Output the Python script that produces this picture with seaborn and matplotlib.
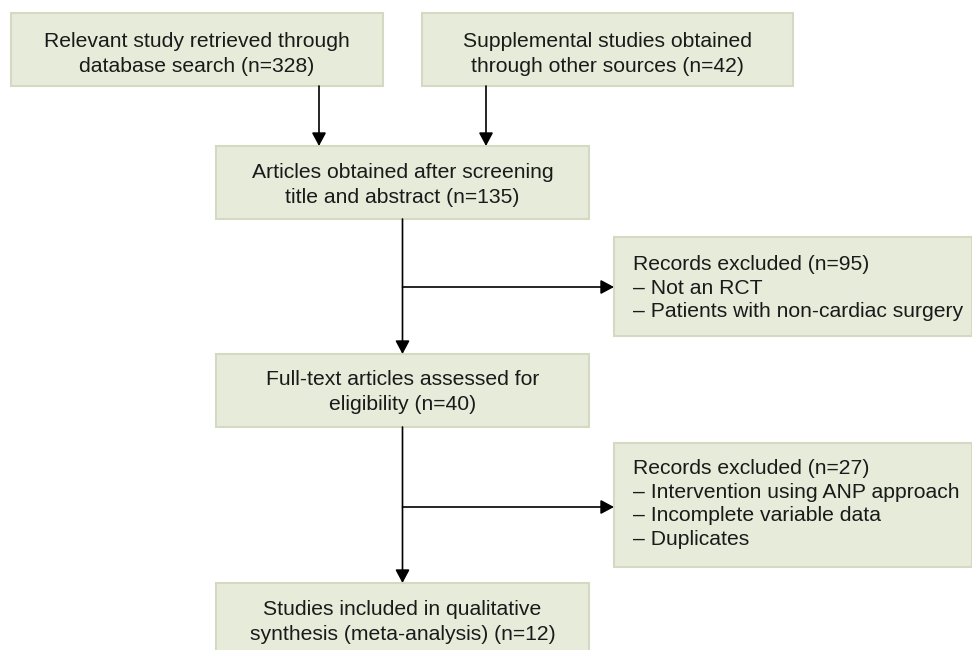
import matplotlib
matplotlib.use("Agg")
import matplotlib.pyplot as plt
from matplotlib.patches import Rectangle
import seaborn as sns

# -------------------------------
# Flow data
stage_labels = [
    "Relevant study retrieved through\ndatabase search",
    "Supplemental studies obtained\nthrough other sources",
    "Articles obtained after screening\ntitle and abstract",
    "Full-text articles assessed for\neligibility",
    "Studies included in qualitative\nsynthesis (meta-analysis)",
]
stage_counts = [328, 42, 135, 40, 12]

excluded_counts = [95, 27]
excluded_reasons = [
    ["Not an RCT", "Patients with non-cardiac surgery"],
    ["Intervention using ANP approach", "Incomplete variable data", "Duplicates"],
]

# -------------------------------
# Layout (pixel space, y downward)
stage_boxes = [  # x0, y0, x1, y1
    (11, 13, 383, 86),
    (422, 13, 793, 86),
    (216, 146, 589, 219),
    (216, 354, 589, 427),
    (216, 583, 589, 660),
]
stage_text_y = [54, 54, 185, 392, 622]
excl_boxes = [(614, 237, 972, 336), (614, 443, 972, 567)]
excl_text_y = [288, 504]
excl_arrow_y = [287, 507]

fill = "#e6ebda"
edge = "#d5d9c4"
txt = "#1a1a1a"

sns.set_style("white")
plt.rcParams["font.family"] = ["Liberation Sans", "DejaVu Sans"]

fig = plt.figure(figsize=(9.72, 6.5), dpi=100)
ax = fig.add_axes([0, 0, 1, 1])
ax.set_xlim(0, 972)
ax.set_ylim(650, 0)
ax.axis("off")


def draw_box(b):
    x0, y0, x1, y1 = b
    ax.add_patch(Rectangle((x0, y0), x1 - x0, y1 - y0, facecolor=fill,
                           edgecolor=edge, lw=1.5, zorder=2))


def arrow(p0, p1):
    ax.annotate("", xy=p1, xytext=p0,
                arrowprops=dict(arrowstyle="-|>,head_length=0.8,head_width=0.43",
                                mutation_scale=10, color="black", lw=1.2,
                                shrinkA=0, shrinkB=0), zorder=3)


for b, lab, n, ty in zip(stage_boxes, stage_labels, stage_counts, stage_text_y):
    draw_box(b)
    ax.text((b[0] + b[2]) / 2, ty, f"{lab} (n={n})", ha="center", va="center",
            fontsize=15.2, color=txt, linespacing=1.37, zorder=4)

for b, n, reasons, ty in zip(excl_boxes, excluded_counts, excluded_reasons, excl_text_y):
    draw_box(b)
    lines = [f"Records excluded (n={n})"] + [f"\u2013 {r}" for r in reasons]
    ax.text(b[0] + 19, ty, "\n".join(lines), ha="left", va="center",
            fontsize=15.2, color=txt, linespacing=1.32, zorder=4)

# arrows from top boxes into screening box
for b in stage_boxes[:2]:
    xc = 319 if b[0] < 200 else 486
    arrow((xc, b[3]), (xc, stage_boxes[2][1]))

# main trunk
trunk_x = 402.5
arrow((trunk_x, stage_boxes[2][3]), (trunk_x, stage_boxes[3][1]))
arrow((trunk_x, stage_boxes[3][3]), (trunk_x, stage_boxes[4][1]))

# exclusion branches
for b, y in zip(excl_boxes, excl_arrow_y):
    arrow((trunk_x, y), (b[0], y))

plt.savefig("out.png", dpi=100)
